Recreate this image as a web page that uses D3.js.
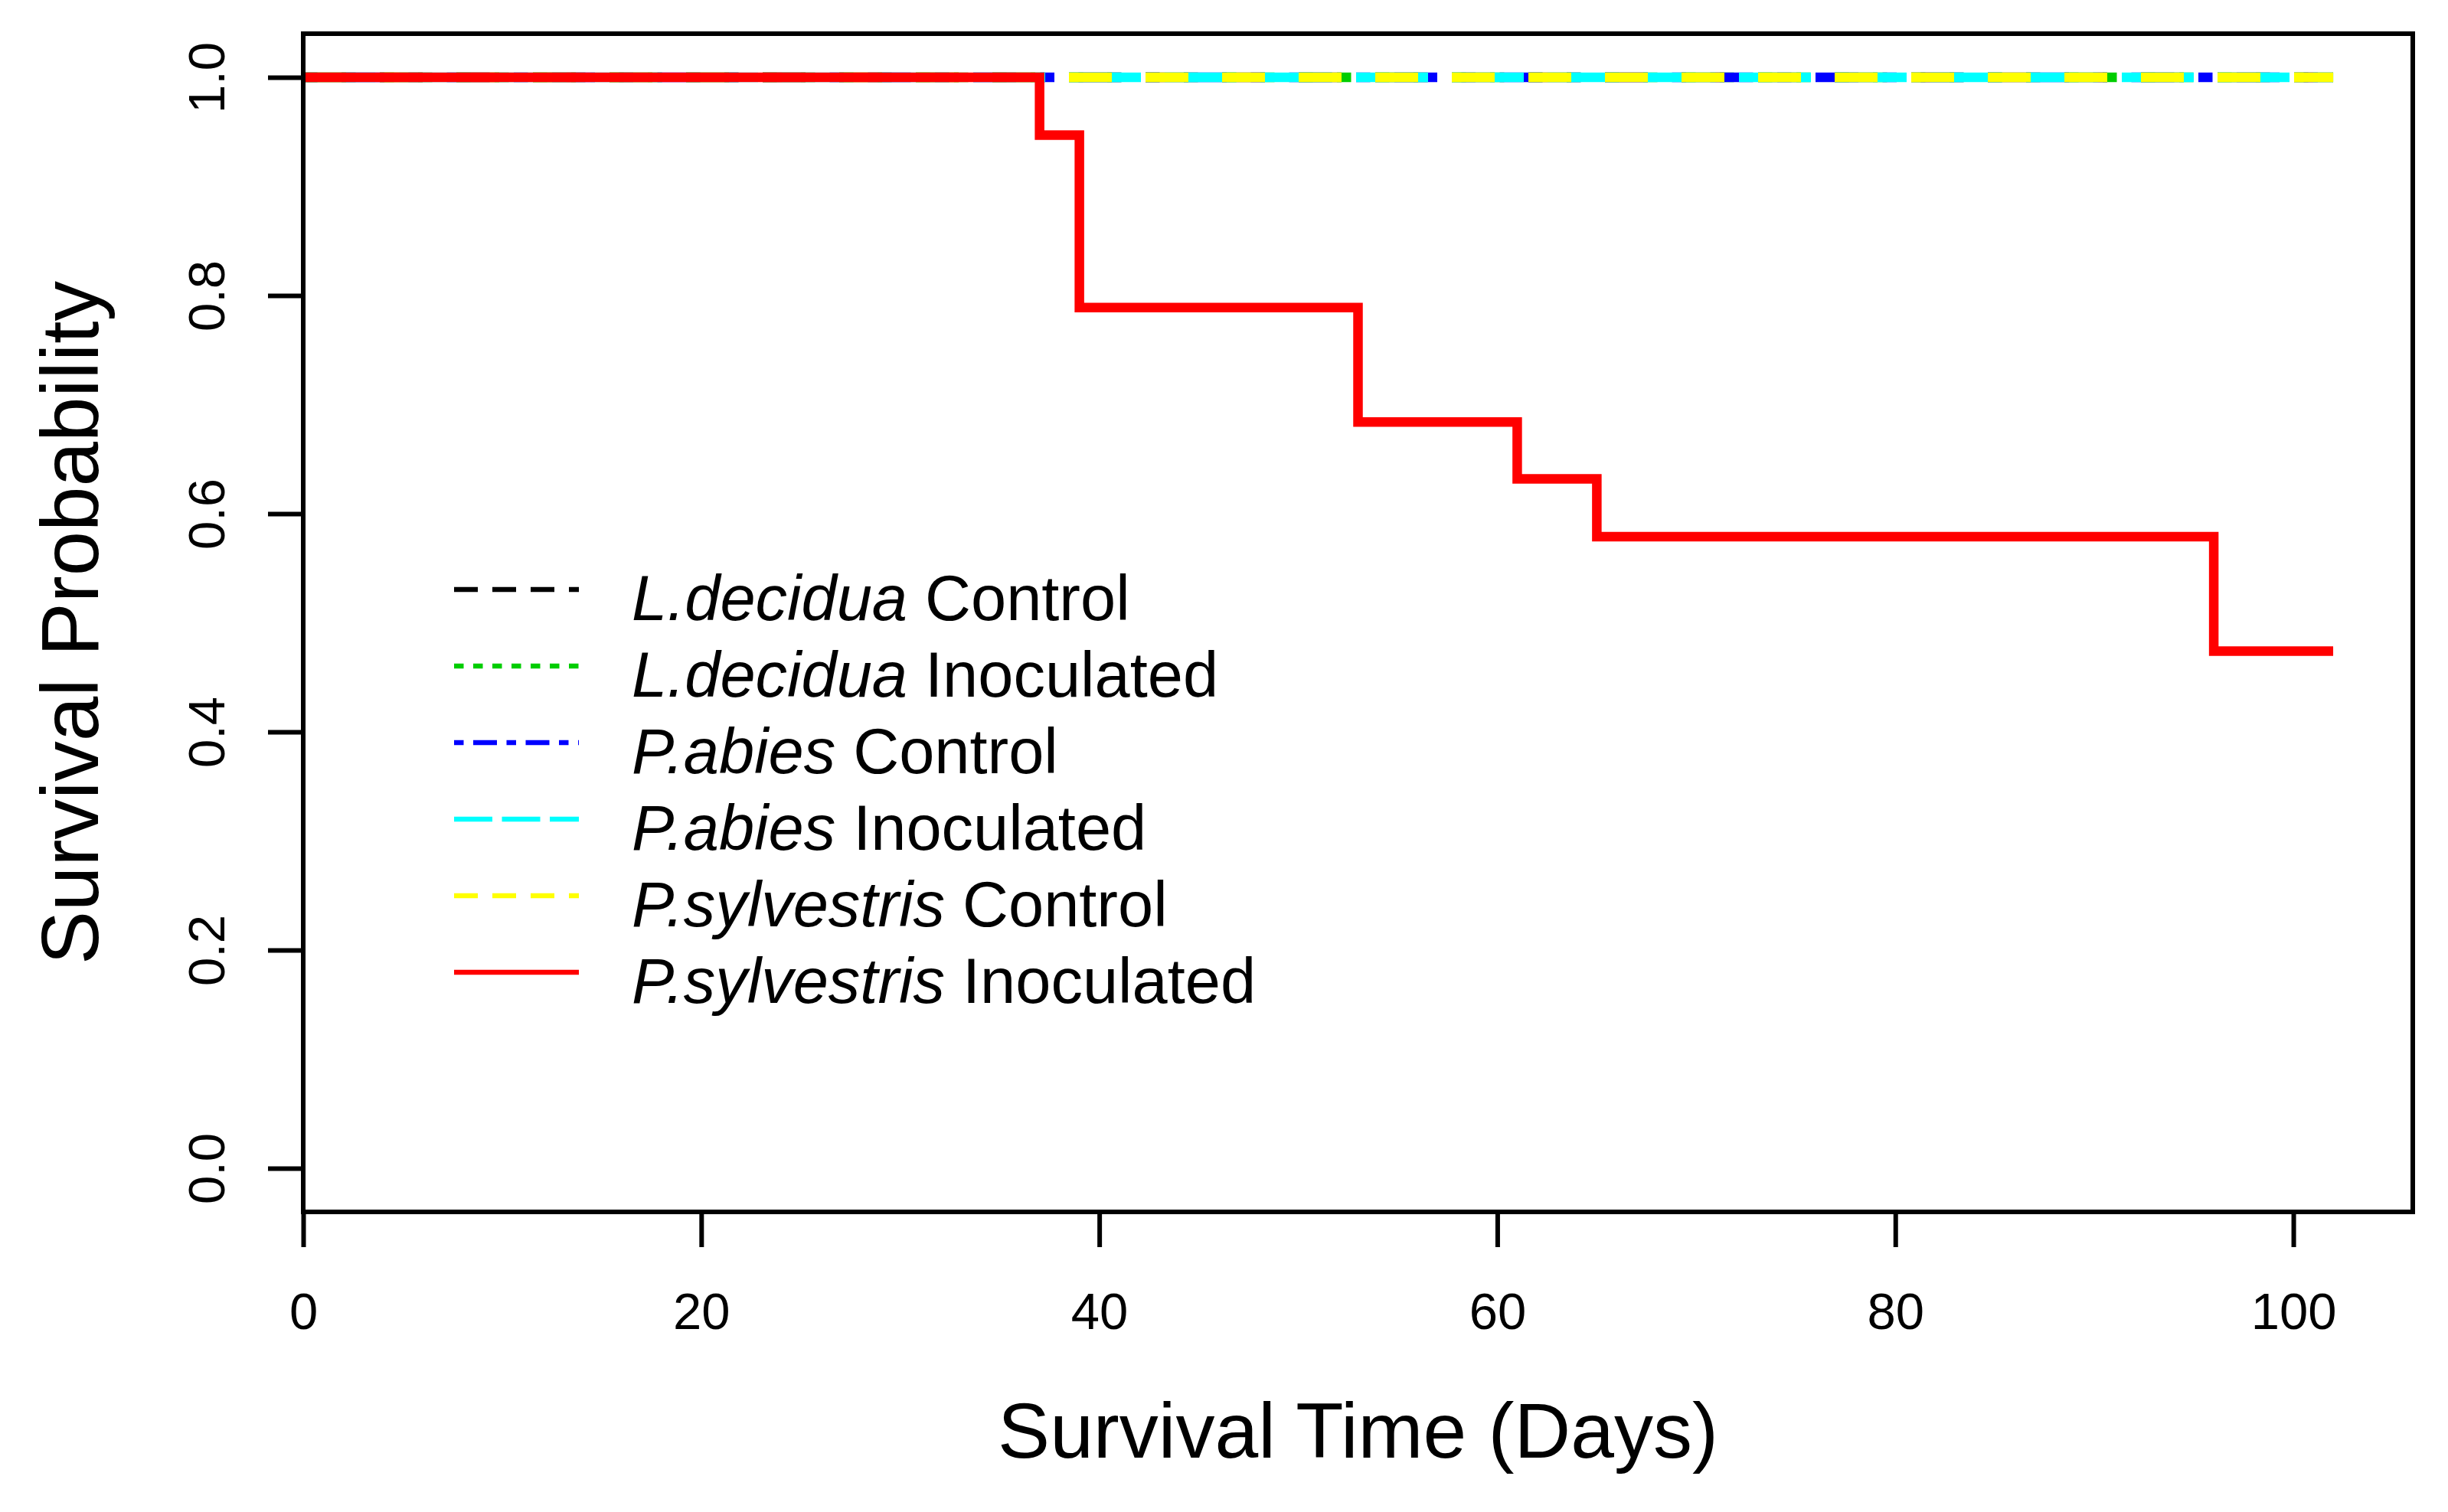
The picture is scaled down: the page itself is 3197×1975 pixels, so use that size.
<!DOCTYPE html>
<html>
<head>
<meta charset="utf-8">
<script src="https://cdn.jsdelivr.net/npm/d3@7/dist/d3.min.js"></script>
<style>
  html, body { margin: 0; padding: 0; background: #ffffff; }
  svg { display: block; }
  text { font-family: "Liberation Sans", Arial, Helvetica, sans-serif; fill: #000; }
</style>
</head>
<body>
<svg id="chart" width="3197" height="1975"></svg>
<script>
// ---- data ----
const species    = ["L.decidua", "L.decidua", "P.abies", "P.abies", "P.sylvestris", "P.sylvestris"];
const treatments = ["Control", "Inoculated", "Control", "Inoculated", "Control", "Inoculated"];

// Kaplan-Meier step points (time in days, survival probability)
const timesLdControl    = [0, 102];
const survLdControl     = [1, 1];
const timesLdInoculated = [0, 102];
const survLdInoculated  = [1, 1];
const timesPaControl    = [0, 102];
const survPaControl     = [1, 1];
const timesPaInoculated = [0, 102];
const survPaInoculated  = [1, 1];
const timesPsControl    = [0, 102];
const survPsControl     = [1, 1];
const timesPsInoculated = [0, 37, 39, 53, 61, 65, 96, 102];
const survPsInoculated  = [1, 0.947, 0.789, 0.684, 0.632, 0.579, 0.474, 0.474];

const xTicks = [0, 20, 40, 60, 80, 100];
const yTicks = [0, 0.2, 0.4, 0.6, 0.8, 1.0];
const xTitle = "Survival Time (Days)";
const yTitle = "Survival Probability";

// ---- styles ----
const colors      = ["#000000", "#00CD00", "#0000FF", "#00FFFF", "#FFFF00", "#FF0000"];
const plotDashes  = ["56 44", "18.5 31.5", "18.5 31.5 56 31.5", "94 31", "56 44", null];
const legendDashes= ["31 19", "12.5 12.5", "12.5 12.5 31 12.5", "50 12.5", "31 19", null];

const series = [
  [timesLdControl, survLdControl],
  [timesLdInoculated, survLdInoculated],
  [timesPaControl, survPaControl],
  [timesPaInoculated, survPaInoculated],
  [timesPsControl, survPsControl],
  [timesPsInoculated, survPsInoculated]
].map(([t, s], i) => ({
  i, pts: t.map((tv, k) => ({t: tv, s: s[k]}))
}));

const svg = d3.select("#chart");
svg.append("rect").attr("width", 3197).attr("height", 1975).attr("fill", "#fff");

const x = d3.scaleLinear().domain([0, 106]).range([396, 3151]);
const y = d3.scaleLinear().domain([-0.04, 1.04]).range([1583, 44]);

// curves
const line = d3.line().x(d => x(d.t)).y(d => y(d.s)).curve(d3.curveStepAfter);
svg.append("g").selectAll("path").data(series).join("path")
  .attr("d", d => line(d.pts))
  .attr("fill", "none")
  .attr("stroke", d => colors[d.i])
  .attr("stroke-width", 12.5)
  .attr("stroke-linejoin", "miter")
  .attr("stroke-linecap", "butt")
  .attr("stroke-dasharray", d => plotDashes[d.i]);

// box
svg.append("rect")
  .attr("x", x(0)).attr("y", y(1.04))
  .attr("width", x(106) - x(0)).attr("height", y(-0.04) - y(1.04))
  .attr("fill", "none").attr("stroke", "#000").attr("stroke-width", 6);

// x axis
const gx = svg.append("g").attr("transform", `translate(0,${y(-0.04)})`)
  .call(d3.axisBottom(x).tickValues(xTicks).tickSize(46).tickPadding(0).tickFormat(d3.format("d")));
gx.select(".domain").remove();
gx.selectAll(".tick line").attr("stroke", "#000").attr("stroke-width", 6);
gx.selectAll(".tick text")
  .attr("y", 1736 - y(-0.04)).attr("dy", 0)
  .attr("font-size", 67).attr("font-family", "Liberation Sans, Arial, sans-serif")
  .attr("fill", "#000");

// y axis
const gy = svg.append("g").attr("transform", `translate(${x(0)},0)`)
  .call(d3.axisLeft(y).tickValues(yTicks).tickSize(46).tickPadding(0).tickFormat(d3.format(".1f")));
gy.select(".domain").remove();
gy.selectAll(".tick line").attr("stroke", "#000").attr("stroke-width", 6);
gy.selectAll(".tick text")
  .attr("x", 0).attr("y", 0).attr("dy", 0)
  .attr("text-anchor", "middle")
  .attr("transform", `translate(${293 - x(0)},0) rotate(-90)`)
  .attr("font-size", 67).attr("font-family", "Liberation Sans, Arial, sans-serif")
  .attr("fill", "#000");

// axis titles
svg.append("text")
  .attr("x", (x(0) + x(106)) / 2).attr("y", 1904)
  .attr("text-anchor", "middle").attr("font-size", 102)
  .text(xTitle);
svg.append("text")
  .attr("transform", `translate(128,${(y(1.04) + y(-0.04)) / 2}) rotate(-90)`)
  .attr("text-anchor", "middle").attr("font-size", 105)
  .text(yTitle);

// legend
const legY0 = 770, legDy = 100, legX0 = 593, legX1 = 756, legTx = 825;
const leg = svg.append("g").selectAll("g").data(species).join("g")
  .attr("transform", (d, i) => `translate(0,${legY0 + i * legDy})`);
leg.append("line")
  .attr("x1", legX0).attr("x2", legX1).attr("y1", 0).attr("y2", 0)
  .attr("stroke", (d, i) => colors[i])
  .attr("stroke-width", 6.5)
  .attr("stroke-dasharray", (d, i) => legendDashes[i]);
const lt = leg.append("text").attr("x", legTx).attr("y", 40).attr("font-size", 83);
lt.append("tspan").attr("font-style", "italic").text(d => d);
lt.append("tspan").text((d, i) => " " + treatments[i]);
</script>
</body>
</html>
